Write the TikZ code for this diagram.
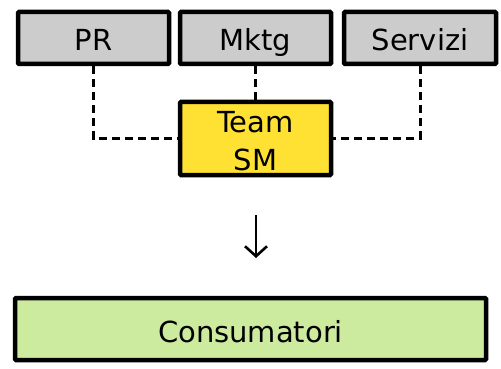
\documentclass[tikz,border=0pt]{standalone}
\usepackage{fontspec}
\setmainfont{DejaVu Sans}
\usetikzlibrary{arrows.meta}
\definecolor{boxgray}{HTML}{CCCCCC}
\definecolor{teamyellow}{HTML}{FFE133}
\definecolor{consgreen}{HTML}{CCEB9E}
\begin{document}
\begin{tikzpicture}[x=1pt,y=-1pt,
  unit/.style={draw=black, line width=4.5pt, rectangle, rounded corners=1pt,
    inner sep=0pt, align=center, font=\fontsize{29}{38}\selectfont},
  oneline/.style={unit, text height=27pt, text depth=1pt},
  dept/.style={oneline, fill=boxgray, minimum width=151pt, minimum height=52pt},
  link/.style={draw=black, line width=3pt, dash pattern=on 8pt off 5pt}]
\useasboundingbox (0,0) rectangle (501,369);
\node[dept] (pr) at (93.5,38) {PR};
\node[dept] (mktg) at (255.5,38) {Mktg};
\node[dept, minimum width=152pt] (serv) at (420,38) {Servizi};
\node[unit, fill=teamyellow, minimum width=151pt, minimum height=73pt] (team) at (255.5,138.5) {\rule{0pt}{27pt}Team\\SM};
\node[oneline, fill=consgreen, minimum width=471pt, minimum height=62pt] (cons) at (250.5,329) {Consumatori};
\draw[link] (pr.south) |- (team.west);
\draw[link] (mktg.south) -- (team.north);
\draw[link] (serv.south) |- (team.east);
\coordinate (a1) at (256,215);
\coordinate (a2) at (256,258);
\draw[line width=2.2pt, -{Straight Barb[length=10pt,width=22pt,line width=2.6pt]}] (a1) -- (a2);
\end{tikzpicture}
\end{document}
